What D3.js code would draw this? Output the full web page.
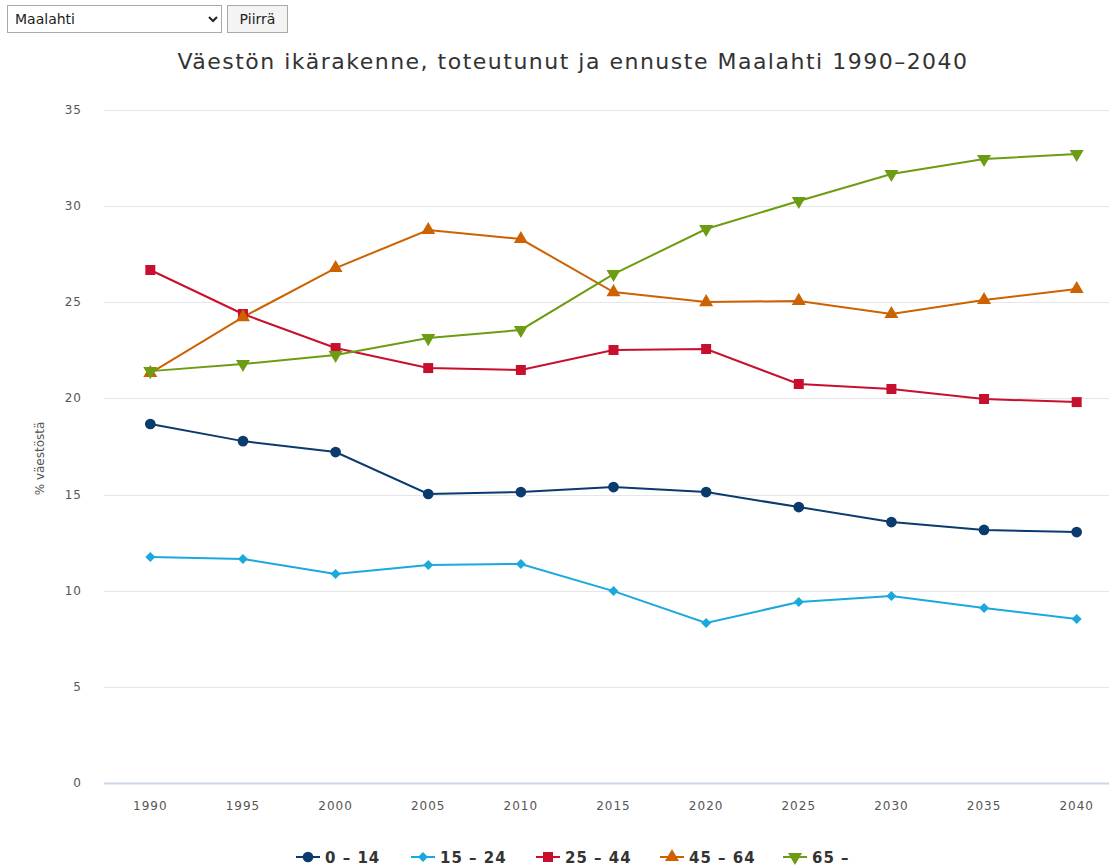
<!DOCTYPE html>
<html>
<head>
<meta charset="utf-8">
<script src="https://cdn.jsdelivr.net/npm/d3@7"></script>
<style>
  body { margin: 0; background: #fff; overflow: hidden; }
  #ctrl { position: absolute; left: 7px; top: 5px; font-family: "DejaVu Sans", Verdana, sans-serif; font-size: 14px; }
  #ctrl select { width: 215px; height: 28px; font-family: inherit; font-size: 14px; color: #222; border: 1px solid #aaa; background: #fff; padding: 0 3px; }
  #ctrl button { height: 28px; width: 61px; margin-left: 5px; font-family: inherit; font-size: 14px; color: #222; background: #f4f4f4; border: 1px solid #aaa; padding: 0 5px; }
  svg { position: absolute; left: 0; top: 0; }
</style>
</head>
<body>
<div id="ctrl">
  <select><option>Maalahti</option></select><button>Piirrä</button>
</div>
<svg id="chart"></svg>
<script>
const years = ["1990","1995","2000","2005","2010","2015","2020","2025","2030","2035","2040"];
const yTicks = [0, 5, 10, 15, 20, 25, 30, 35];

const age0_14  = [18.67, 17.78, 17.21, 15.03, 15.13, 15.39, 15.13, 14.35, 13.57, 13.16, 13.05];
const age15_24 = [11.75, 11.65, 10.87, 11.34, 11.39, 9.98, 8.32, 9.41, 9.72, 9.10, 8.53];
const age25_44 = [26.68, 24.39, 22.62, 21.58, 21.48, 22.52, 22.57, 20.75, 20.49, 19.97, 19.81];
const age45_64 = [21.32, 24.23, 26.78, 28.76, 28.29, 25.53, 25.01, 25.07, 24.39, 25.12, 25.69];
const age65    = [21.42, 21.79, 22.26, 23.14, 23.56, 26.47, 28.81, 30.27, 31.67, 32.45, 32.71];

const series = [
  {name: "0 – 14",  values: age0_14,  color: "#0b3a6e", symbol: "circle"},
  {name: "15 – 24", values: age15_24, color: "#1ba8dc", symbol: "diamond"},
  {name: "25 – 44", values: age25_44, color: "#c8102e", symbol: "square"},
  {name: "45 – 64", values: age45_64, color: "#cc6200", symbol: "up"},
  {name: "65 –",    values: age65,    color: "#6c9c12", symbol: "down"}
];

const width = 1109, height = 867;
const plotLeft = 104, plotRight = 1123, plotTop = 110, plotBottom = 783;

const svg = d3.select('#chart').attr('width', width).attr('height', height)
  .style('font-family', '"DejaVu Sans", Verdana, sans-serif');

const x = d3.scalePoint().domain(years).range([plotLeft, plotRight]).padding(0.5);
const y = d3.scaleLinear().domain([0, 35]).range([plotBottom, plotTop]);

// title
svg.append('text')
  .attr('x', 573).attr('y', 69)
  .attr('text-anchor', 'middle')
  .attr('font-size', 22)
  .attr('letter-spacing', 1.5)
  .attr('fill', '#333')
  .text('Väestön ikärakenne, toteutunut ja ennuste Maalahti 1990–2040');

// gridlines
svg.append('g')
  .selectAll('line')
  .data(yTicks.filter(t => t > 0))
  .enter()
  .append('line')
  .attr('x1', plotLeft).attr('x2', width)
  .attr('y1', d => Math.round(y(d)) + 0.5).attr('y2', d => Math.round(y(d)) + 0.5)
  .attr('stroke', '#e6e6e6').attr('stroke-width', 1);

// x axis line
svg.append('line')
  .attr('x1', plotLeft).attr('x2', width)
  .attr('y1', y(0) + 0.5).attr('y2', y(0) + 0.5)
  .attr('stroke', '#ccd6eb').attr('stroke-width', 2);

// y tick labels
svg.append('g')
  .selectAll('text')
  .data(yTicks)
  .enter()
  .append('text')
  .attr('x', 82).attr('y', d => y(d) + 4)
  .attr('text-anchor', 'end')
  .attr('font-size', 12)
  .attr('letter-spacing', 1)
  .attr('fill', '#555')
  .text(d => d);

// y axis title
svg.append('text')
  .attr('transform', `translate(44, ${(plotTop + plotBottom) / 2 + 12}) rotate(-90)`)
  .attr('text-anchor', 'middle')
  .attr('font-size', 12)
  .attr('fill', '#555')
  .text('% väestöstä');

// x tick labels
svg.append('g')
  .selectAll('text')
  .data(years)
  .enter()
  .append('text')
  .attr('x', d => x(d)).attr('y', 810)
  .attr('text-anchor', 'middle')
  .attr('font-size', 12)
  .attr('letter-spacing', 1)
  .attr('fill', '#555')
  .text(d => d);

function marker(sym) {
  if (sym === "circle") return d3.symbol(d3.symbolCircle, 90)();
  if (sym === "square") return d3.symbol(d3.symbolSquare, 100)();
  if (sym === "diamond") return "M0,-5L5,0L0,5L-5,0Z";
  return d3.symbol(d3.symbolTriangle, 85)();
}
function markerTransform(sym) {
  return sym === "down" ? ' rotate(180)' : '';
}

const line = d3.line()
  .x((d, i) => x(years[i]))
  .y(d => y(d));

const g = svg.append('g');
series.forEach(s => {
  g.append('path')
    .attr('d', line(s.values))
    .attr('fill', 'none')
    .attr('stroke', s.color)
    .attr('stroke-width', 2);
});
series.forEach(s => {
  g.append('g')
    .selectAll('path')
    .data(s.values)
    .enter()
    .append('path')
    .attr('d', marker(s.symbol))
    .attr('transform', (d, i) => `translate(${x(years[i])}, ${y(d)})` + markerTransform(s.symbol))
    .attr('fill', s.color);
});

// legend
const legendX = [296, 411, 536, 660, 783];
const legend = svg.append('g');
series.forEach((s, i) => {
  const lg = legend.append('g').attr('transform', `translate(${legendX[i]}, 857)`);
  lg.append('line')
    .attr('x1', 0).attr('x2', 24)
    .attr('y1', 0).attr('y2', 0)
    .attr('stroke', s.color).attr('stroke-width', 2);
  lg.append('path')
    .attr('d', marker(s.symbol))
    .attr('transform', `translate(12, 0)` + markerTransform(s.symbol))
    .attr('fill', s.color);
  lg.append('text')
    .attr('x', 29).attr('y', 5.5)
    .attr('font-size', 15)
    .attr('letter-spacing', 1)
    .attr('font-weight', 'bold')
    .attr('fill', '#333')
    .text(s.name);
});
</script>
</body>
</html>
